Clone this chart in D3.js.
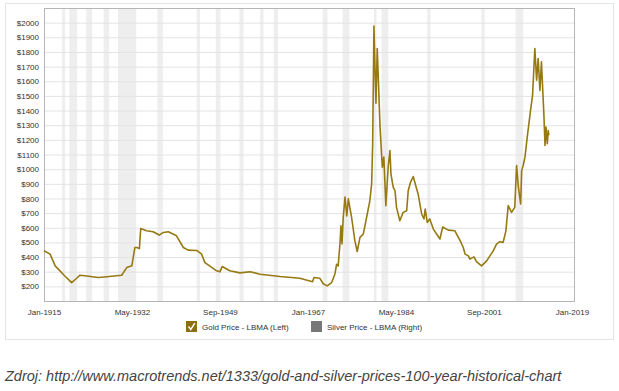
<!DOCTYPE html>
<html>
<head>
<meta charset="utf-8">
<script src="https://cdn.jsdelivr.net/npm/d3@7"></script>
<style>
  body { margin: 0; background: #fff; }
  svg text { font-family: Arial, "Liberation Sans", sans-serif; }
</style>
</head>
<body>
<div id="chart-area"></div>
<script>
// gold price, inflation adjusted (decimal year, USD/oz)
var goldYears = [1915.0, 1916.2, 1917.2, 1918.15, 1919.1, 1920.45, 1921.1, 1922.1, 1923.4, 1925.7,
  1927.35, 1930.3, 1931.3, 1932.3, 1932.9, 1933.25, 1933.8, 1934.05, 1935.2, 1936.5,
  1937.7, 1938.5, 1939.5, 1941.1, 1942.45, 1943.4, 1945.1, 1946.05, 1946.7, 1949.0,
  1949.65, 1950.1, 1951.6, 1953.6, 1955.6, 1957.55, 1961.5, 1965.4, 1967.9, 1968.2,
  1969.35, 1970.0, 1970.8, 1971.65, 1972.3, 1972.65, 1972.95, 1973.3, 1973.5, 1973.7,
  1973.95, 1974.3, 1974.65, 1974.95, 1975.6, 1976.25, 1976.7, 1977.25, 1977.9, 1978.55,
  1979.2, 1979.55, 1979.75, 1980.0, 1980.25, 1980.4, 1980.65, 1980.85, 1981.2, 1981.65,
  1981.95, 1982.35, 1982.8, 1983.15, 1983.35, 1983.8, 1984.15, 1984.45, 1985.1, 1985.75,
  1986.45, 1986.75, 1987.2, 1987.75, 1988.05, 1988.7, 1989.4, 1989.85, 1990.1, 1990.5,
  1991.0, 1991.7, 1993.0, 1993.55, 1994.65, 1995.95, 1997.0, 1997.6, 1997.95, 1998.6,
  1998.9, 1999.7, 2000.2, 2001.2, 2002.2, 2002.85, 2003.5, 2004.15, 2004.8, 2005.45,
  2006.0, 2006.45, 2007.1, 2007.75, 2008.1, 2008.45, 2008.9, 2009.1, 2009.4, 2009.75,
  2010.2, 2010.85, 2011.25, 2011.7, 2012.05, 2012.35, 2012.7, 2013.0, 2013.5, 2013.7,
  2013.9, 2014.15, 2014.35, 2014.45];
var goldValues = [443, 420, 340, 306, 271, 225, 245, 276, 271, 260,
  266, 276, 328, 340, 465, 465, 458, 595, 580, 573,
  550, 568, 573, 545, 465, 447, 445, 420, 362, 306,
  299, 335, 306, 292, 300, 283, 267, 255, 232, 260,
  255, 218, 203, 225, 283, 351, 340, 488, 614, 490,
  670, 810, 680, 797, 670, 510, 438, 534, 557, 670,
  785, 899, 1173, 1977, 1630, 1450, 1824, 1630, 1287, 1013,
  1082, 751, 1013, 1127, 968, 876, 853, 739, 648, 705,
  716, 853, 910, 950, 910, 831, 694, 660, 728, 636,
  660, 591, 523, 605, 584, 579, 510, 465, 420, 408,
  386, 401, 368, 340, 374, 408, 442, 488, 505, 500,
  579, 751, 705, 739, 1025, 880, 762, 990, 1025, 1082,
  1218, 1401, 1504, 1824, 1607, 1755, 1538, 1732, 1356, 1162,
  1287, 1173, 1264, 1230];

// shaded recessions
var recessionStarts = ["1918-08", "1920-01", "1923-05", "1926-10", "1929-08", "1937-05", "1945-02",
  "1948-11", "1953-07", "1957-08", "1960-04", "1969-12", "1973-11", "1980-01", "1981-07",
  "1990-07", "2001-03", "2007-12"];
var recessionEnds = ["1919-03", "1921-07", "1924-07", "1927-11", "1933-03", "1938-06", "1945-10",
  "1949-10", "1954-05", "1958-04", "1961-02", "1970-11", "1975-03", "1980-07", "1982-11",
  "1991-03", "2001-11", "2009-06"];

var xTickLabels = ["Jan-1915", "May-1932", "Sep-1949", "Jan-1967", "May-1984", "Sep-2001", "Jan-2019"];
var yTicks = [200, 300, 400, 500, 600, 700, 800, 900, 1000, 1100, 1200, 1300, 1400, 1500,
  1600, 1700, 1800, 1900, 2000];
var legendNames = ["Gold Price - LBMA (Left)", "Silver Price - LBMA (Right)"];
var caption = "Zdroj: http://www.macrotrends.net/1333/gold-and-silver-prices-100-year-historical-chart";

var parseMonth = d3.timeParse("%b-%Y");
var parseYm = d3.timeParse("%Y-%m");
function fromDecimal(y) {
  var yr = Math.floor(y);
  var start = new Date(yr, 0, 1), end = new Date(yr + 1, 0, 1);
  return new Date(+start + (y - yr) * (end - start));
}

var gold = goldYears.map(function (y, i) {
  return { date: fromDecimal(y), value: goldValues[i] };
});

var margin = { left: 44, right: 45, top: 8, bottom: 90 };
var totalW = 619, totalH = 391;
var width = totalW - margin.left - margin.right;
var height = totalH - margin.top - margin.bottom;

var svg = d3.select("#chart-area")
  .append("svg")
  .attr("width", totalW)
  .attr("height", totalH);

// outer panel
svg.append("rect")
  .attr("x", 5.5).attr("y", 3.5)
  .attr("width", 608).attr("height", 336)
  .attr("fill", "#fff")
  .attr("stroke", "#dfe5e8");

var xscale = d3.scaleTime()
  .domain([parseMonth("Jan-1915"), new Date(2019, 5, 1)])
  .range([0, width]);
var yscale = d3.scaleLinear().domain([100, 2100]).range([height, 0]);

var g = svg.append("g")
  .attr("transform", "translate(" + margin.left + "," + margin.top + ")");

// recession bands
g.selectAll(".rec")
  .data(recessionStarts)
  .enter()
  .append("rect")
  .attr("class", "rec")
  .attr("x", function (d) { return xscale(parseYm(d)); })
  .attr("width", function (d, i) { return xscale(parseYm(recessionEnds[i])) - xscale(parseYm(d)); })
  .attr("y", 0)
  .attr("height", height)
  .attr("fill", "#eeeeee");

// horizontal grid
g.append("g")
  .attr("class", "grid")
  .call(d3.axisLeft(yscale).tickValues(yTicks).tickSize(-width).tickFormat(""))
  .call(function (s) {
    s.select(".domain").remove();
    s.selectAll("line").attr("stroke", "#e3e3e3");
  });

// y axis labels
g.append("g")
  .attr("class", "y-axis")
  .call(d3.axisLeft(yscale).tickValues(yTicks).tickSize(0).tickPadding(5)
    .tickFormat(function (d) { return "$" + d; }))
  .call(function (s) {
    s.select(".domain").remove();
    s.selectAll("text").attr("font-size", "8px").attr("fill", "#333")
      .style("font-family", "Arial, 'Liberation Sans', sans-serif");
  });

// x axis labels
g.append("g")
  .attr("class", "x-axis")
  .attr("transform", "translate(0," + height + ")")
  .call(d3.axisBottom(xscale).tickValues(xTickLabels.map(parseMonth)).tickSize(0).tickPadding(8)
    .tickFormat(d3.timeFormat("%b-%Y")))
  .call(function (s) {
    s.select(".domain").remove();
    s.selectAll("text").attr("font-size", "8px").attr("fill", "#333")
      .style("font-family", "Arial, 'Liberation Sans', sans-serif");
  });

// frame
g.append("rect")
  .attr("x", 0.5).attr("y", 0.5)
  .attr("width", width).attr("height", height)
  .attr("fill", "none")
  .attr("stroke", "#b5b5b5");

var line = d3.line()
  .x(function (d) { return xscale(d.date); })
  .y(function (d) { return yscale(d.value); });

g.append("path")
  .datum(gold)
  .attr("d", line)
  .attr("fill", "none")
  .attr("stroke", "#967912")
  .attr("stroke-width", 1.6)
  .attr("stroke-linejoin", "round");

// legend
var legendX = [186, 311];
var leg = svg.selectAll(".leg")
  .data(legendNames)
  .enter()
  .append("g")
  .attr("class", "leg")
  .attr("transform", function (d, i) { return "translate(" + legendX[i] + ",321)"; });

leg.append("rect")
  .attr("width", 11).attr("height", 11)
  .attr("fill", function (d, i) { return i === 0 ? "#8c6f12" : "#777"; });

leg.filter(function (d, i) { return i === 0; })
  .append("path")
  .attr("d", "M2.5,5.5 L4.8,8.5 L8.8,2.2")
  .attr("fill", "none")
  .attr("stroke", "#fff")
  .attr("stroke-width", 1.4);

leg.append("text")
  .attr("x", 16).attr("y", 8.5)
  .attr("font-size", "8px")
  .attr("fill", "#333")
  .text(function (d) { return d; });

// source caption
svg.append("text")
  .attr("x", 5).attr("y", 381)
  .attr("font-size", "14.5px")
  .attr("font-style", "italic")
  .attr("fill", "#444")
  .text(caption);
</script>
</body>
</html>
